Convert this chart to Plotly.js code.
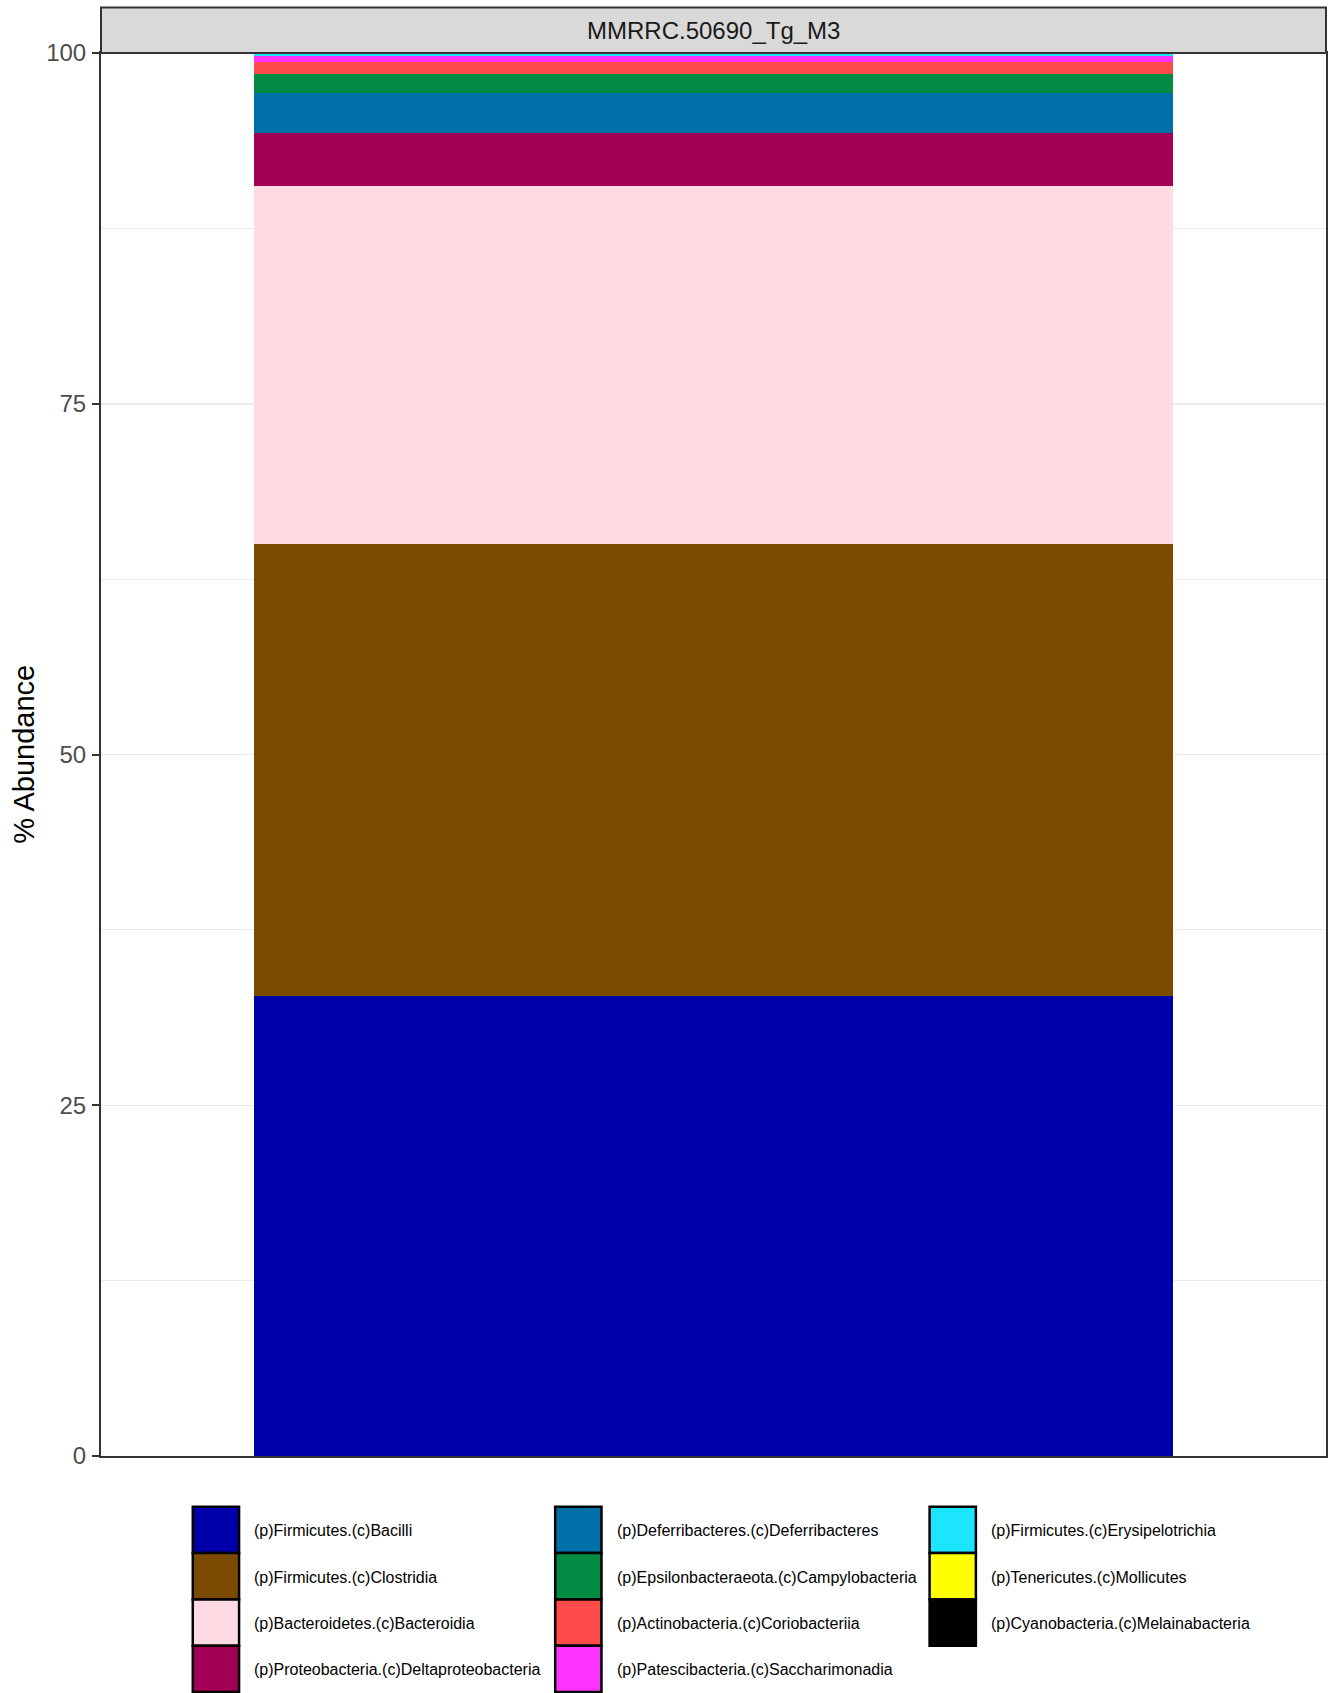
<!DOCTYPE html>
<html>
<head>
<meta charset="utf-8">
<script src="https://cdn.plot.ly/plotly-3.0.1.min.js"></script>
<style>
  html, body { margin: 0; padding: 0; background: #ffffff; }
  #chart { width: 1330px; height: 1693px; }
</style>
</head>
<body>
<div id="chart"></div>
<script>
// ---- Data ----
const sampleNames = ['MMRRC.50690_Tg_M3'];
const taxa = [
  '(p)Firmicutes.(c)Bacilli',
  '(p)Firmicutes.(c)Clostridia',
  '(p)Bacteroidetes.(c)Bacteroidia',
  '(p)Proteobacteria.(c)Deltaproteobacteria',
  '(p)Deferribacteres.(c)Deferribacteres',
  '(p)Epsilonbacteraeota.(c)Campylobacteria',
  '(p)Actinobacteria.(c)Coriobacteriia',
  '(p)Patescibacteria.(c)Saccharimonadia',
  '(p)Firmicutes.(c)Erysipelotrichia',
  '(p)Tenericutes.(c)Mollicutes',
  '(p)Cyanobacteria.(c)Melainabacteria'
];
const abundance = [32.79, 32.19, 25.52, 3.78, 2.85, 1.38, 0.855, 0.43, 0.12, 0.07, 0.015];
const taxaColors = [
  '#0000AA', '#7A4A00', '#FFDAE3', '#A10056', '#0070A8', '#038A43',
  '#FF4A4A', '#FF33FF', '#1EE5FF', '#FFFF00', '#000000'
];
const yTickVals = [0, 25, 50, 75, 100];
const yTickText = ['0', '25', '50', '75', '100'];
const yAxisTitle = '% Abundance';

// ---- Layout constants (pixels) ----
const W = 1330, H = 1693;
const panelL = 100.7, panelR = 1326, panelT = 52.7, panelB = 1455.7;
const stripTop = 7.3;
const FONT = 'Liberation Sans, Arial, Helvetica, sans-serif';

const pw = panelR - panelL, ph = panelB - panelT;
const px2x = p => (p - panelL) / pw;
const py2y = p => (panelB - p) / ph;

// ---- Traces ----
const traces = taxa.map((name, i) => ({
  type: 'bar',
  name: name,
  x: [sampleNames[0]],
  y: [abundance[i]],
  width: 0.9,
  marker: { color: taxaColors[i], line: { width: 0 } },
  showlegend: false,
  hoverinfo: 'name+y'
}));

// ---- Shapes & annotations ----
const shapes = [];
const annotations = [];

// facet strip
shapes.push({
  type: 'rect', xref: 'paper', yref: 'paper',
  x0: 0, x1: 1, y0: 1, y1: py2y(stripTop),
  fillcolor: '#D9D9D9', line: { color: '#333333', width: 2 }, layer: 'above'
});
annotations.push({
  xref: 'paper', yref: 'paper', x: 0.5, y: py2y(30.5),
  xanchor: 'center', yanchor: 'middle', showarrow: false,
  text: sampleNames[0], font: { family: FONT, size: 24, color: '#1A1A1A' }
});

// y axis title
annotations.push({
  xref: 'paper', yref: 'paper', x: px2x(23), y: 0.5,
  xanchor: 'center', yanchor: 'middle', showarrow: false, textangle: -90,
  text: yAxisTitle, font: { family: FONT, size: 29, color: '#000000' }
});

// manual legend (column-major, 4 rows)
const nRows = 4;
const keySize = 46.3;
const legendTop = 1506.5;
const colKeyLeft = [192.5, 555, 929.5];
const textOffset = 59.5;
taxa.forEach((name, i) => {
  const col = Math.floor(i / nRows), row = i % nRows;
  const x0 = colKeyLeft[col], y0 = legendTop + row * keySize;
  shapes.push({
    type: 'rect', xref: 'paper', yref: 'paper',
    x0: px2x(x0), x1: px2x(x0 + keySize), y0: py2y(y0 + keySize), y1: py2y(y0),
    fillcolor: taxaColors[i], line: { color: '#000000', width: 2.5 }, layer: 'above'
  });
  annotations.push({
    xref: 'paper', yref: 'paper', x: px2x(x0 + textOffset), y: py2y(y0 + keySize / 2 + 1),
    xanchor: 'left', yanchor: 'middle', showarrow: false,
    text: name, font: { family: FONT, size: 16, color: '#000000' }
  });
});

const layout = {
  width: W, height: H,
  margin: { l: panelL, r: W - panelR, t: panelT, b: H - panelB, pad: 0 },
  paper_bgcolor: '#FFFFFF', plot_bgcolor: '#FFFFFF',
  barmode: 'stack',
  showlegend: false,
  font: { family: FONT },
  xaxis: {
    type: 'category', range: [-0.6, 0.6],
    showticklabels: false, ticks: '', showgrid: false, zeroline: false,
    showline: true, linecolor: '#333333', linewidth: 2, mirror: true, fixedrange: true
  },
  yaxis: {
    range: [0, 100], tickvals: yTickVals, ticktext: yTickText,
    ticks: 'outside', ticklen: 7, tickwidth: 2, tickcolor: '#333333',
    ticklabelstandoff: 1,
    tickfont: { family: FONT, size: 24, color: '#4D4D4D' },
    showgrid: true, gridcolor: '#EBEBEB', gridwidth: 1.5,
    minor: { dtick: 12.5, tick0: 0, showgrid: true, gridcolor: '#EBEBEB', gridwidth: 1, ticks: '' },
    zeroline: false,
    showline: true, linecolor: '#333333', linewidth: 2, mirror: true, fixedrange: true
  },
  shapes: shapes,
  annotations: annotations
};

Plotly.newPlot('chart', traces, layout, { displayModeBar: false, staticPlot: true });
</script>
</body>
</html>
